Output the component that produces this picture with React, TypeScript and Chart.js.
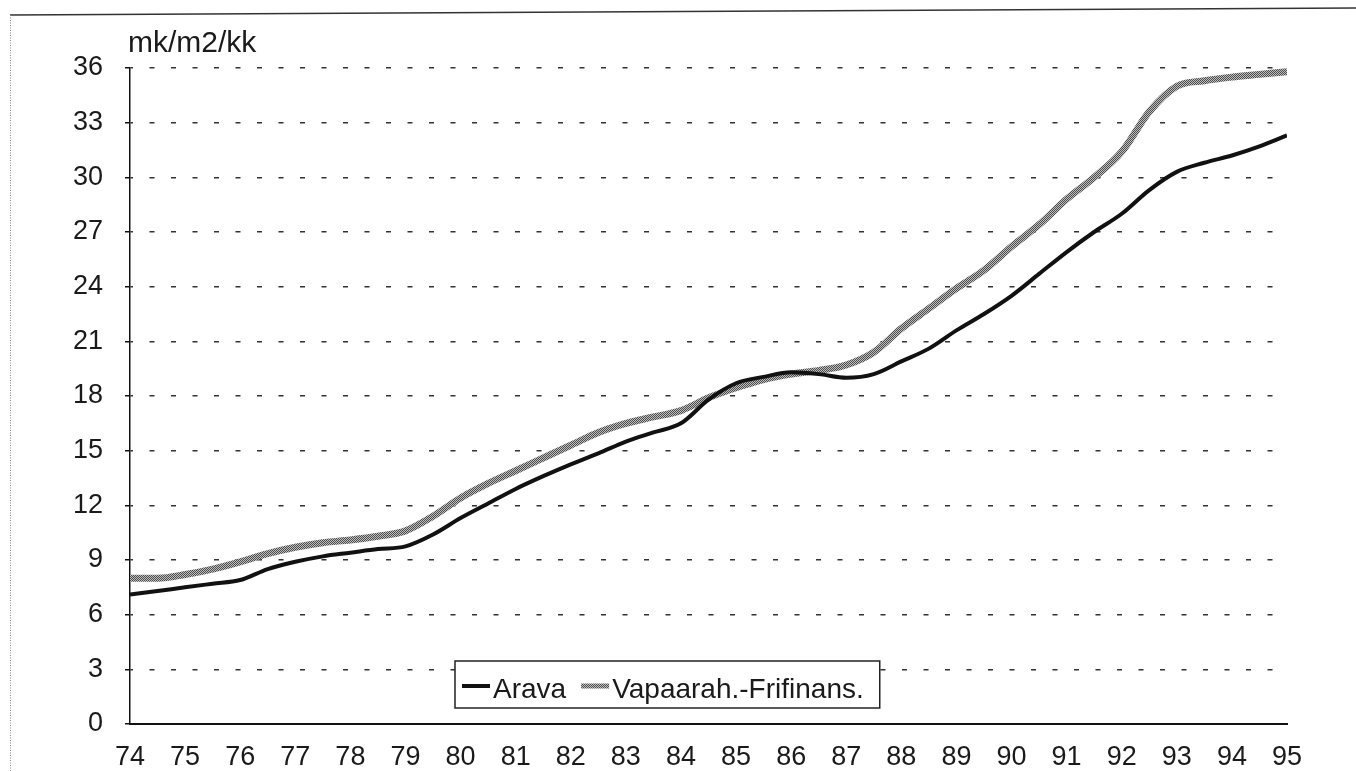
import React, { useEffect, useRef } from 'react';
import { Chart, registerables } from 'chart.js';

Chart.register(...registerables);

const yearPoints = [
  74, 74.5, 75, 75.5, 76, 76.5, 77, 77.5, 78, 78.5, 79, 79.5, 80, 80.5, 81, 81.5,
  82, 82.5, 83, 83.5, 84, 84.5, 85, 85.5, 86, 86.5, 87, 87.5, 88, 88.5, 89, 89.5,
  90, 90.5, 91, 91.5, 92, 92.5, 93, 93.5, 94, 94.5, 95,
];

const aravaValues = [
  7.1, 7.3, 7.5, 7.7, 7.9, 8.5, 8.9, 9.2, 9.4, 9.6, 9.75, 10.4, 11.3, 12.1, 12.9, 13.6,
  14.25, 14.85, 15.5, 16.0, 16.5, 17.8, 18.7, 19.05, 19.3, 19.2, 19.0, 19.2, 19.9, 20.6, 21.6, 22.5,
  23.5, 24.7, 25.9, 27.0, 28.0, 29.3, 30.3, 30.8, 31.2, 31.7, 32.3,
];

const vapaaValues = [
  8.0, 8.0, 8.2, 8.5, 8.9, 9.35, 9.7, 9.95, 10.1, 10.3, 10.6, 11.4, 12.4, 13.2, 13.9, 14.6,
  15.3, 16.0, 16.5, 16.85, 17.2, 17.9, 18.45, 18.9, 19.2, 19.4, 19.7, 20.4, 21.7, 22.8, 23.9, 24.9,
  26.2, 27.4, 28.8, 30.0, 31.4, 33.6, 35.0, 35.3, 35.5, 35.65, 35.8,
];

const seriesLabels = ['Arava', 'Vapaarah.-Frifinans.'];
const yAxisTitle = 'mk/m2/kk';
const xRange = [74, 95];
const yRange = [0, 36];
const yStep = 3;

const FONT = '"Liberation Sans", Arial, Helvetica, sans-serif';
const INK = '#1a1a1a';

function makeHalftone(): CanvasPattern | string {
  const c = document.createElement('canvas');
  c.width = 2;
  c.height = 2;
  const g = c.getContext('2d');
  if (!g) return '#8a8a8a';
  g.fillStyle = '#bdbdbd';
  g.fillRect(0, 0, 2, 2);
  g.fillStyle = '#4d4d4d';
  g.fillRect(0, 0, 1, 1);
  g.fillRect(1, 1, 1, 1);
  const p = g.createPattern(c, 'repeat');
  return p || '#8a8a8a';
}

export default function App() {
  const canvasRef = useRef<HTMLCanvasElement | null>(null);

  useEffect(() => {
    const canvas = canvasRef.current;
    if (!canvas) return;
    const halftone = makeHalftone();

    const decor = {
      id: 'decor',
      beforeDraw(chart: any) {
        const ctx = chart.ctx as CanvasRenderingContext2D;
        ctx.save();
        ctx.fillStyle = '#ffffff';
        ctx.fillRect(0, 0, chart.width, chart.height);
        ctx.strokeStyle = '#333333';
        ctx.lineWidth = 1.5;
        ctx.beginPath();
        ctx.moveTo(10, 15);
        ctx.lineTo(chart.width, 8);
        ctx.stroke();
        ctx.strokeStyle = '#888888';
        ctx.lineWidth = 1;
        ctx.setLineDash([1, 1.5]);
        ctx.beginPath();
        ctx.moveTo(10.5, 15);
        ctx.lineTo(10.5, chart.height);
        ctx.stroke();
        ctx.setLineDash([]);
        ctx.fillStyle = INK;
        ctx.font = `30px ${FONT}`;
        ctx.textBaseline = 'alphabetic';
        ctx.textAlign = 'left';
        ctx.fillText(yAxisTitle, chart.chartArea.left - 2, 52);
        ctx.restore();
      },
      afterDatasetsDraw(chart: any) {
        const ctx = chart.ctx as CanvasRenderingContext2D;
        const ds = chart.data.datasets;
        ctx.save();
        ctx.font = `28px ${FONT}`;
        const w1 = ctx.measureText(ds[0].label).width;
        const w2 = ctx.measureText(ds[1].label).width;
        const left = 455;
        const top = 661;
        const h = 47;
        const midY = 686;
        const sample1 = left + 7;
        const text1 = sample1 + 31;
        const sample2 = text1 + w1 + 15;
        const text2 = sample2 + 31;
        const right = text2 + w2 + 16;
        ctx.fillStyle = '#ffffff';
        ctx.fillRect(left, top, right - left, h);
        ctx.strokeStyle = '#222222';
        ctx.lineWidth = 1.5;
        ctx.strokeRect(left, top, right - left, h);
        ctx.lineCap = 'butt';
        ctx.strokeStyle = ds[0].borderColor;
        ctx.lineWidth = 4;
        ctx.beginPath();
        ctx.moveTo(sample1, midY);
        ctx.lineTo(sample1 + 28, midY);
        ctx.stroke();
        ctx.strokeStyle = ds[1].borderColor;
        ctx.lineWidth = 5;
        ctx.beginPath();
        ctx.moveTo(sample2, midY);
        ctx.lineTo(sample2 + 28, midY);
        ctx.stroke();
        ctx.fillStyle = INK;
        ctx.textBaseline = 'alphabetic';
        ctx.textAlign = 'left';
        ctx.fillText(ds[0].label, text1, 698);
        ctx.fillText(ds[1].label, text2, 698);
        ctx.restore();
      },
    };

    const chart = new Chart(canvas, {
      type: 'line',
      data: {
        datasets: [
          {
            label: seriesLabels[0],
            data: yearPoints.map((x, i) => ({ x, y: aravaValues[i] })),
            borderColor: '#111111',
            borderWidth: 4,
            pointRadius: 0,
            tension: 0.4,
            cubicInterpolationMode: 'monotone',
            fill: false,
          },
          {
            label: seriesLabels[1],
            data: yearPoints.map((x, i) => ({ x, y: vapaaValues[i] })),
            borderColor: halftone as any,
            borderWidth: 7,
            pointRadius: 0,
            tension: 0.4,
            cubicInterpolationMode: 'monotone',
            fill: false,
          },
        ],
      },
      options: {
        responsive: false,
        animation: false,
        layout: { padding: { left: 10, right: 69, top: 68, bottom: 0 } },
        plugins: {
          legend: { display: false },
          tooltip: { enabled: false },
          title: { display: false },
        },
        scales: {
          x: {
            type: 'linear',
            min: xRange[0],
            max: xRange[1],
            afterFit: (s: any) => {
              s.height = 47;
            },
            ticks: {
              stepSize: 1,
              autoSkip: false,
              maxRotation: 0,
              padding: 17,
              color: INK,
              font: { family: FONT, size: 27 },
              callback: (v: any) => String(v),
            },
            grid: { display: false, drawTicks: false },
            border: { display: true, color: '#111111', width: 2 },
          },
          y: {
            min: yRange[0],
            max: yRange[1],
            afterFit: (s: any) => {
              s.width = 120;
            },
            ticks: {
              stepSize: yStep,
              padding: 22,
              color: INK,
              font: { family: FONT, size: 27 },
            },
            grid: {
              color: '#333333',
              lineWidth: 1.5,
              drawTicks: true,
              tickLength: 5,
              tickColor: '#111111',
              tickWidth: 1.5,
            },
            border: { display: true, color: '#111111', width: 1.5, dash: [5, 16.5], dashOffset: 2.5 },
          },
        },
      },
      plugins: [decor],
    } as any);

    return () => {
      chart.destroy();
    };
  }, []);

  return (
    <div style={{ position: 'fixed', left: 0, top: 0, width: 1356, height: 771, background: '#fff' }}>
      <canvas ref={canvasRef} width={1356} height={771} />
    </div>
  );
}
